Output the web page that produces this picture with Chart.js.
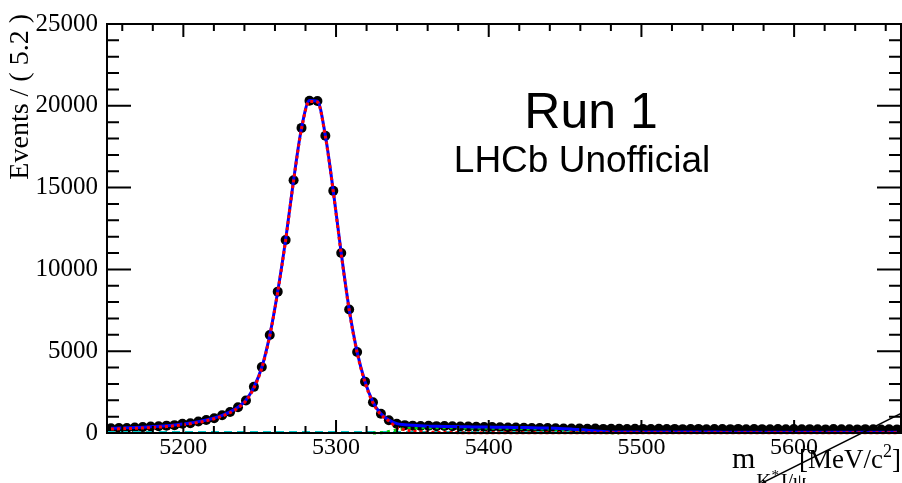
<!DOCTYPE html>
<html>
<head>
<meta charset="utf-8">
<title>B mass fit - Run 1</title>
<script src="https://cdn.jsdelivr.net/npm/chart.js@4.4.0/dist/chart.umd.min.js"></script>
<style>
  html, body { margin: 0; padding: 0; background: #fff; overflow: hidden; }
  #wrap { width: 906px; height: 483px; }
</style>
</head>
<body>
<div id="wrap"><canvas id="massChart"></canvas></div>
<script>
// histogram binning: Events / (5.2) between 5150 and 5670
const binLow = 5150;
const binWidth = 5.2;

// data counts per bin (100 bins)
const counts = [
  290, 310, 300, 340, 360, 400, 410, 450, 480, 560,
  600, 700, 790, 900, 1080, 1280, 1570, 1990, 2820, 4030,
  5990, 8640, 11800, 15450, 18650, 20310, 20290, 18170, 14800, 11000,
  7550, 4950, 3140, 1880, 1180, 780, 560, 480, 450, 430,
  440, 420, 430, 410, 400, 390, 380, 370, 360, 350,
  340, 330, 320, 310, 300, 300, 290, 280, 280, 270,
  260, 270, 250, 260, 255, 240, 260, 250, 245, 255,
  240, 250, 235, 245, 250, 230, 245, 240, 235, 250,
  230, 240, 235, 225, 245, 230, 240, 225, 235, 230,
  220, 240, 225, 230, 220, 235, 225, 215, 230, 220
];

// total fit (blue)
const totalFit = [
  290, 305, 320, 335, 355, 380, 410, 445, 490, 545,
  610, 695, 795, 920, 1080, 1290, 1580, 2010, 2800, 4020,
  5980, 8650, 11820, 15460, 18640, 20320, 20280, 18180, 14790, 10990,
  7560, 4960, 3130, 1890, 1170, 790, 570, 510, 470, 440,
  420, 409, 399, 390, 383, 377, 370, 365, 359, 353,
  346, 337, 330, 322, 311, 299, 283, 263, 237, 207,
  167, 121, 85, 65, 57, 56, 56, 56, 55, 55,
  55, 55, 54, 54, 54, 54, 54, 53, 53, 53,
  53, 53, 52, 52, 52, 52, 52, 51, 51, 51,
  51, 51, 51, 50, 50, 50, 50, 50, 50, 50
];

// signal component (red dashed)
const signalFit = [
  240, 255, 270, 285, 305, 330, 360, 395, 440, 495,
  560, 645, 745, 870, 1030, 1240, 1530, 1960, 2750, 3970,
  5930, 8600, 11770, 15410, 18590, 20270, 20230, 18130, 14740, 10940,
  7510, 4910, 3080, 1840, 1120, 740, 330, 200, 120, 75,
  50, 38, 30, 25, 22, 20, 18, 17, 16, 15,
  14, 13, 13, 13, 12, 12, 12, 12, 11, 11,
  11, 11, 10, 10, 10, 10, 10, 10, 10, 10,
  10, 9, 9, 9, 9, 9, 9, 9, 9, 9,
  9, 9, 9, 8, 8, 8, 8, 8, 8, 8,
  8, 8, 8, 8, 8, 8, 8, 8, 8, 8
];

// partially reconstructed peak (green dotted), bins 33..64
const otherMass = [5324.2, 5329.4, 5334.6, 5339.8, 5345.0, 5350.2, 5355.4, 5360.6, 5365.8, 5371.0,
  5376.2, 5381.4, 5386.6, 5391.8, 5397.0, 5402.2, 5407.4, 5412.6, 5417.8, 5423.0,
  5428.2, 5433.4, 5438.6, 5443.8, 5449.0, 5454.2, 5459.4, 5464.6, 5469.8, 5475.0, 5480.2, 5485.4];
const otherPeak = [0, 20, 90, 190, 260, 300, 315, 320, 322, 320,
  316, 312, 308, 304, 300, 295, 290, 284, 277, 270,
  262, 252, 240, 225, 205, 180, 150, 110, 65, 30, 10, 0];

// combinatorial (cyan dashed) and flat (yellow dashed) backgrounds
const bkgMass = [5150, 5250, 5350, 5450, 5550, 5670];
const combBkg = [50, 49, 48, 46, 44, 42];
const flatBkg = [6, 6, 6, 6, 6, 6];

const xTickValues = [5200, 5300, 5400, 5500, 5600];
const yTickValues = [0, 5000, 10000, 15000, 20000, 25000];

const binCenters = counts.map((_, i) => binLow + binWidth * (i + 0.5));
const pts = (xs, ys) => ys.map((y, i) => ({ x: xs[i], y: y }));

const serif = '"Liberation Serif", "Times New Roman", serif';
const sans = '"Liberation Sans", Arial, sans-serif';

// ROOT style frame, inward ticks, error bars and labels
const rootFrame = {
  id: "rootFrame",
  beforeDatasetsDraw(chart) {
    const ctx = chart.ctx;
    const xs = chart.scales.x;
    const ys = chart.scales.y;
    ctx.save();
    ctx.strokeStyle = "#000";
    ctx.lineWidth = 2;
    counts.forEach((n, i) => {
      const c = binCenters[i];
      const py = ys.getPixelForValue(n);
      const err = Math.sqrt(n);
      ctx.beginPath();
      ctx.moveTo(xs.getPixelForValue(c - binWidth / 2), py);
      ctx.lineTo(xs.getPixelForValue(c + binWidth / 2), py);
      ctx.moveTo(xs.getPixelForValue(c), ys.getPixelForValue(n - err));
      ctx.lineTo(xs.getPixelForValue(c), ys.getPixelForValue(n + err));
      ctx.stroke();
    });
    ctx.restore();
  },
  afterDraw(chart) {
    const ctx = chart.ctx;
    const a = chart.chartArea;
    const xs = chart.scales.x;
    const ys = chart.scales.y;
    ctx.save();
    ctx.strokeStyle = "#000";
    ctx.lineWidth = 2;
    ctx.strokeRect(a.left, a.top, a.right - a.left, a.bottom - a.top);

    // x ticks (bottom and top), minor every 20
    ctx.beginPath();
    for (let v = 5160; v < xs.max; v += 20) {
      const px = xs.getPixelForValue(v);
      const len = xTickValues.includes(v) ? 13 : 7;
      ctx.moveTo(px, a.bottom); ctx.lineTo(px, a.bottom - len);
      ctx.moveTo(px, a.top); ctx.lineTo(px, a.top + len);
    }
    // y ticks (left and right), minor every 1000
    for (let v = 1000; v < ys.max; v += 1000) {
      const py = ys.getPixelForValue(v);
      const len = yTickValues.includes(v) ? 24 : 12;
      ctx.moveTo(a.left, py); ctx.lineTo(a.left + len, py);
      ctx.moveTo(a.right, py); ctx.lineTo(a.right - len, py);
    }
    ctx.stroke();

    // y axis title
    ctx.fillStyle = "#000";
    ctx.save();
    ctx.translate(28, 14);
    ctx.rotate(-Math.PI / 2);
    ctx.font = "28px " + serif;
    ctx.textAlign = "right";
    ctx.textBaseline = "alphabetic";
    ctx.fillText("Events / ( 5.2 )", 0, 0);
    ctx.restore();

    // x axis title with sub/superscripts
    ctx.textAlign = "left";
    ctx.textBaseline = "alphabetic";
    let tx = 732;
    ctx.font = "30px " + serif;
    ctx.fillText("m", tx, 468);
    tx += ctx.measureText("m").width + 1;
    ctx.font = "21px " + serif;
    ctx.fillText("K", tx, 488);
    tx += ctx.measureText("K").width;
    ctx.font = "15px " + serif;
    ctx.fillText("*", tx, 480);
    tx += ctx.measureText("*").width;
    ctx.font = "21px " + serif;
    ctx.fillText("J/ψ", tx, 488);

    ctx.font = "27px " + serif;
    const w1 = ctx.measureText("[MeV/c").width;
    const w3 = ctx.measureText("]").width;
    ctx.font = "18px " + serif;
    const w2 = ctx.measureText("2").width;
    tx = 901 - (w1 + w2 + w3);
    ctx.font = "27px " + serif;
    ctx.fillText("[MeV/c", tx, 468);
    tx += w1;
    ctx.font = "18px " + serif;
    ctx.fillText("2", tx, 457);
    tx += w2;
    ctx.font = "27px " + serif;
    ctx.fillText("]", tx, 468);

    // labels
    ctx.textAlign = "center";
    ctx.font = "50px " + sans;
    ctx.fillText("Run 1", 591, 128);
    ctx.font = "37px " + sans;
    ctx.fillText("LHCb Unofficial", 582, 172);

    // stray line in the corner
    ctx.lineWidth = 1.5;
    ctx.beginPath();
    ctx.moveTo(760, 484);
    ctx.lineTo(906, 411);
    ctx.stroke();
    ctx.restore();
  }
};

new Chart(document.getElementById("massChart"), {
  type: "scatter",
  data: {
    datasets: [
      {
        label: "Data",
        data: pts(binCenters, counts),
        pointRadius: 5,
        pointHoverRadius: 5,
        pointBackgroundColor: "#000",
        pointBorderWidth: 0,
        showLine: false,
        order: 6,
      },
      {
        label: "Flat",
        data: pts(bkgMass, flatBkg),
        showLine: true,
        pointRadius: 0,
        borderColor: "#e8c800",
        borderWidth: 2,
        borderDash: [8, 5],
        clip: 4,
        order: 5,
      },
      {
        label: "Combinatorial",
        data: pts(bkgMass, combBkg),
        showLine: true,
        pointRadius: 0,
        borderColor: "#00c8c8",
        borderWidth: 2.5,
        borderDash: [8, 5],
        clip: 4,
        order: 4,
      },
      {
        label: "Other peak",
        data: pts(otherMass, otherPeak),
        showLine: true,
        pointRadius: 0,
        borderColor: "#00d000",
        borderWidth: 3,
        borderDash: [3, 4],
        cubicInterpolationMode: "monotone",
        clip: 4,
        order: 3,
      },
      {
        label: "Total fit",
        data: pts(binCenters, totalFit),
        showLine: true,
        pointRadius: 0,
        borderColor: "#0000ff",
        borderWidth: 3,
        cubicInterpolationMode: "monotone",
        clip: 4,
        order: 2,
      },
      {
        label: "Signal",
        data: pts(binCenters, signalFit),
        showLine: true,
        pointRadius: 0,
        borderColor: "#ff0000",
        borderWidth: 3,
        borderDash: [3, 3],
        cubicInterpolationMode: "monotone",
        clip: 4,
        order: 1,
      },
    ],
  },
  options: {
    responsive: true,
    maintainAspectRatio: false,
    animation: false,
    events: [],
    layout: { padding: { left: 0, top: 17, right: 2, bottom: 0 } },
    plugins: {
      legend: { display: false },
      tooltip: { enabled: false },
    },
    scales: {
      x: {
        type: "linear",
        min: binLow,
        max: binLow + binWidth * counts.length,
        afterBuildTicks: (scale) => {
          scale.ticks = xTickValues.map((v) => ({ value: v }));
        },
        afterFit: (scale) => { scale.height = 50; },
        grid: { display: false, drawTicks: false },
        border: { display: false },
        ticks: {
          color: "#000",
          padding: 0,
          maxRotation: 0,
          font: { family: serif, size: 24 },
          callback: (v) => String(v),
        },
      },
      y: {
        min: 0,
        max: 25000,
        afterBuildTicks: (scale) => {
          scale.ticks = yTickValues.map((v) => ({ value: v }));
        },
        afterFit: (scale) => { scale.width = 107; },
        grid: { display: false, drawTicks: false },
        border: { display: false },
        ticks: {
          color: "#000",
          padding: 9,
          font: { family: serif, size: 25 },
          callback: (v) => String(v),
        },
      },
    },
  },
  plugins: [rootFrame],
});
</script>
</body>
</html>
